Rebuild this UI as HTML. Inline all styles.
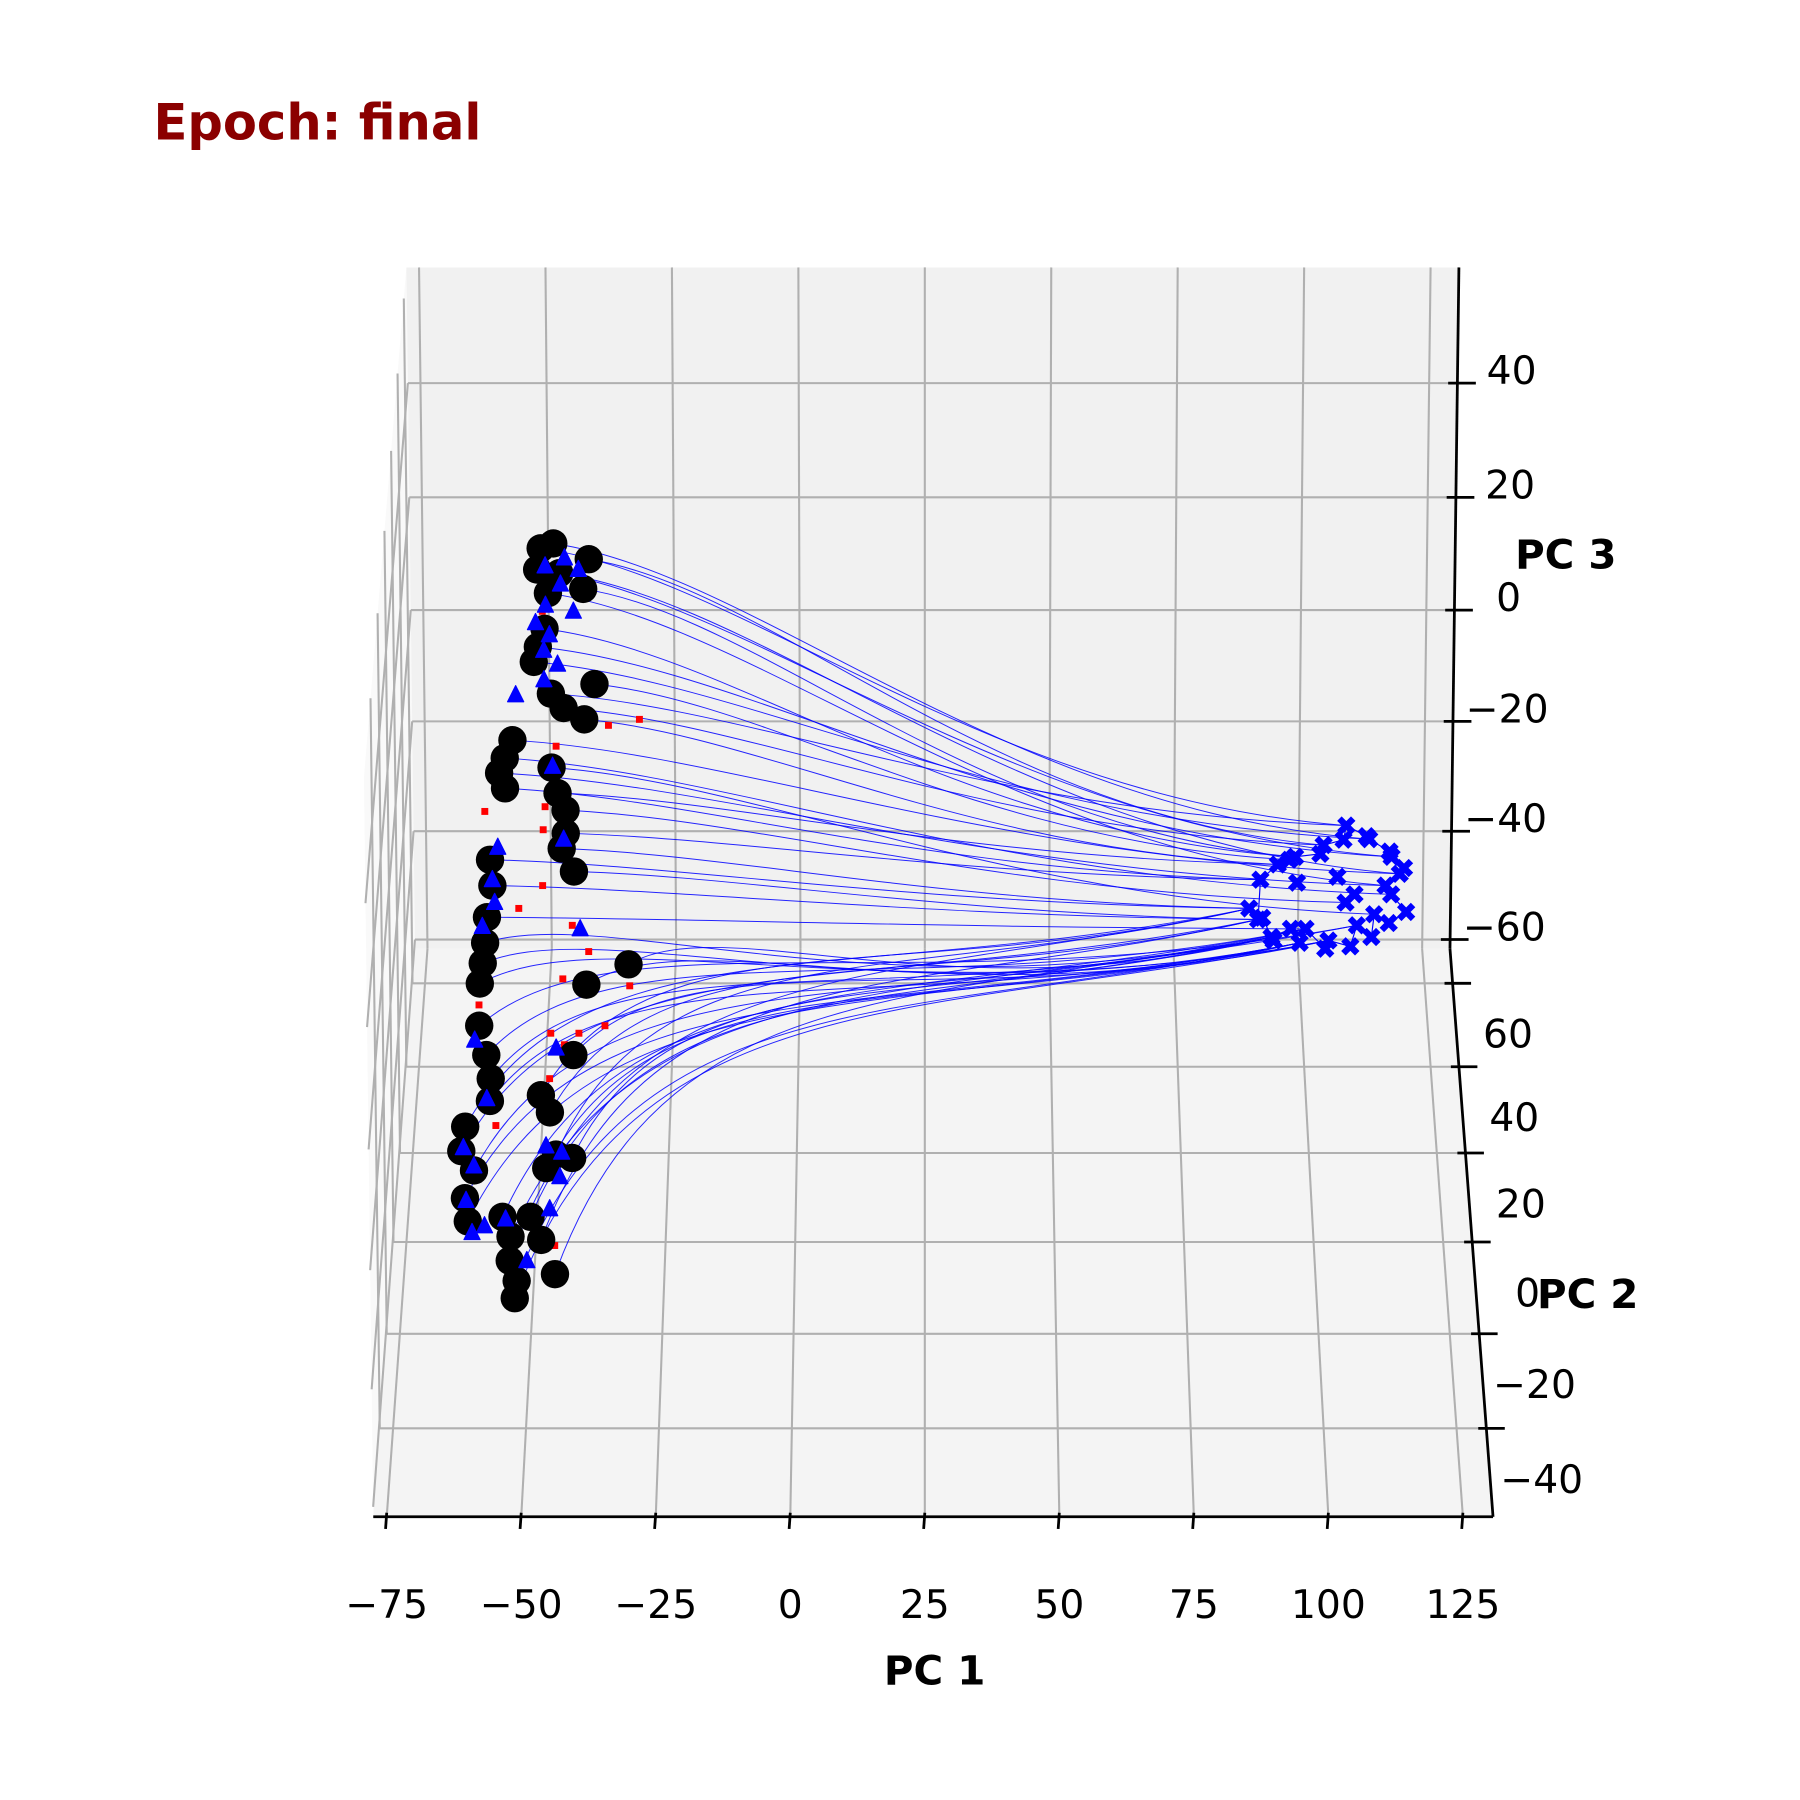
<!DOCTYPE html>
<html><head><meta charset="utf-8"><style>
html,body{margin:0;padding:0;background:#fff;}
svg{display:block;font-family:"DejaVu Sans","Liberation Sans",sans-serif;}
</style></head><body>
<svg id="chart" width="1800" height="1800" viewBox="0 0 1560 1560" xmlns="http://www.w3.org/2000/svg">
<text x="133" y="121" font-size="43" font-weight="bold" fill="#8b0000">Epoch: final</text>
<g id="panes"></g>
<g id="grid"></g>
<g id="axes"></g>
<g id="traj"></g>
<g id="marks"></g>
<text x="810" y="1448" font-size="35" font-weight="bold" text-anchor="middle" dominant-baseline="central">PC 1</text>
<text x="1357" y="481" font-size="35" font-weight="bold" text-anchor="middle" dominant-baseline="central">PC 3</text>
<text x="1376" y="1122" font-size="35" font-weight="bold" text-anchor="middle" dominant-baseline="central">PC 2</text>
</svg>
<script>
// ---- data (PC coordinates) ----
const DATA_PC2 = -1.9;
const startPc1 = [-47.8,-45.4,-38.7,-48.5,-39.8,-46.5,-44.3,-37.8,-39.8,-43.7,-46.1,-49.3,-48.5,-47.2,-53.5,-55.0,-56.1,-55.0,-46.1,-45.0,-43.5,-43.5,-44.3,-42.0,-31.7,-39.8,-42.4,-58.0,-57.6,-58.7,-59.1,-59.6,-60.2,-60.4,-59.1,-58.3,-58.5,-63.3,-64.1,-61.7,-63.5,-63.0,-56.3,-54.8,-50.9,-48.9,-55.0,-53.7,-54.1,-46.3,-48.7,-47.0,-42.8,-47.8,-45.9];
const startPc3 = [58.4,59.2,56.6,54.9,51.7,51.0,54.3,35.9,30.0,31.9,34.3,39.6,42.1,45.1,26.5,23.5,21.0,18.4,21.9,17.6,14.7,10.8,8.2,4.3,-11.6,-15.1,-27.3,6.3,1.9,-3.5,-7.9,-11.4,-14.9,-22.2,-27.3,-31.4,-35.3,-39.8,-44.1,-47.5,-52.4,-56.5,-55.7,-59.2,-55.7,-59.8,-63.5,-67.1,-70.2,-65.9,-34.3,-37.3,-45.3,-47.1,-44.7];
const endPc1 = [87.0,89.1,92.4,95.7,101.1,105.4,109.8,114.1,115.7,114.1,110.9,107.6,102.2,96.7,91.3,88.7,105.4,97.8,94.6,113.0,100.5,104.9,109.3,113.7,116.5,117.0,113.7,110.4,106.4,101.6,95.0,91.7,89.5,96.1,107.1,103.8];
const endPc3 = [-2.0,2.9,5.5,6.8,8.8,12.1,9.8,6.8,3.9,0.4,-3.0,-4.9,-7.5,-7.9,-6.9,-3.9,-1.0,-5.5,6.3,1.9,7.3,9.7,10.3,7.7,4.9,-2.6,-4.5,-6.9,-8.5,-8.9,-5.5,-7.5,-3.6,2.4,0.4,3.4];
const trajEndIdx = [5,6,4,7,3,19,8,18,2,4,5,6,7,3,8,9,19,1,10,2,16,1,0,15,14,13,12,0,15,17,14,13,12,11,17,14,13,0,15,14,13,12,17,11,14,15,0,13,12,17,0,15,14,13,0];
const ringOrder = [0,15,1,2,18,3,20,4,21,5,22,6,23,7,24,8,19,9,25,26,10,27,11,28,12,29,17,13,30,14,31,32,0];
const midPc1 = [-47.0,-43.3,-40.7,-44.1,-47.0,-41.7,-48.9,-46.3,-47.4,-44.8,-47.4,-52.8,-45.9,-43.9,-56.5,-57.6,-57.2,-59.6,-40.9,-61.3,-59.1,-63.7,-61.7,-63.3,-62.2,-59.8,-55.7,-51.7,-47.8,-45.2,-44.8,-47.2,-45.7];
const midPc3 = [55.5,56.8,54.9,52.5,49.0,48.0,46.1,44.1,41.5,39.2,36.6,34.1,22.1,9.8,8.4,2.9,-1.0,-5.1,-5.5,-24.7,-34.9,-43.5,-46.7,-52.8,-58.5,-57.3,-56.1,-63.5,-43.2,-48.6,-44.3,-54.3,-26.1];
const redPc1 = [-47.6,-47.8,-50.2,-45.4,-35.2,-29.3,-45.2,-55.9,-58.9,-47.4,-47.8,-42.8,-48.0,-52.6,-42.4,-39.3,-44.3,-40.7,-31.5,-36.3,-41.3,-44.1,-47.0,-60.2,-60.4,-57.4,-46.3,-46.7];
const redPc3 = [48.0,44.7,39.2,31.4,29.0,30.0,25.5,18.6,14.5,15.3,11.4,3.5,1.9,-2.0,-4.9,-9.4,-14.1,-14.1,-15.3,-22.2,-23.5,-25.5,-31.4,-21.6,-18.6,-39.6,-60.8,-23.5];
const xTicks = [-75,-50,-25,0,25,50,75,100,125];
const xTickLabels = ["\u221275","\u221250","\u221225","0","25","50","75","100","125"];
const yTicks = [60,40,20,0,-20,-40];
const yTickLabels = ["60","40","20","0","\u221220","\u221240"];
const zTicks = [40,20,0,-20,-40,-60];
const zTickLabels = ["40","20","0","\u221220","\u221240","\u221260"];

// ---- projection ----
const XMIN=-77.5, XMAX=130.6, YMAX=68.5, YMIN=-58.2, ZMIN=-61.7, ZMAX=60;
function floorY(p2){ return 1076.4 - 3.917*p2 + 0.003008*p2*p2; }
function backY(z){ return 528.1 - 4.854*z - 0.00159*z*z; }
const HMAX = backY(ZMIN) - backY(ZMAX);
function P(p1,p2,p3){
  const fy = floorY(p2); const t = (fy-822)/492.5;
  const h = backY(ZMIN) - backY(p3);
  const sy = fy - h*(1+0.085*t);
  const k = 4.31*(1+0.082*t)*(1+0.017*h/HMAX);
  return [801.5 + (p1-25)*k, sy];
}
const NS = "http://www.w3.org/2000/svg";
function mk(tag, parent, attrs){ const e=document.createElementNS(NS,tag); for(const k in attrs) e.setAttribute(k,attrs[k]); parent.appendChild(e); return e; }
function poly(pts){ return pts.map(p=>p[0].toFixed(1)+","+p[1].toFixed(1)).join(" "); }

const panes=document.getElementById('panes'), grid=document.getElementById('grid'), axes=document.getElementById('axes');
let pn = mk('polygon', panes, {points: poly([P(XMIN,YMAX,ZMAX),P(XMIN,YMAX,ZMIN),P(XMIN,YMIN,ZMIN),P(XMIN,YMIN,ZMAX)]), fill:'#f9f9f9'});


pn = mk('polygon', panes, {points: poly([P(XMIN,YMAX,ZMIN),P(XMAX,YMAX,ZMIN),P(XMAX,YMIN,ZMIN),P(XMIN,YMIN,ZMIN)]), fill:'#f4f4f4'});


pn = mk('polygon', panes, {points: poly([P(XMIN,YMAX,ZMAX),P(XMAX,YMAX,ZMAX),P(XMAX,YMAX,ZMIN),P(XMIN,YMAX,ZMIN)]), fill:'#f1f1f1'});



function gl(a,b,name){ const l=mk('line',grid,{x1:a[0],y1:a[1],x2:b[0],y2:b[1],stroke:'#b0b0b0','stroke-width':1.8});
  
   }
xTicks.forEach(v=>{ gl(P(v,YMAX,ZMIN),P(v,YMAX,ZMAX),'back-vgrid'); gl(P(v,YMAX,ZMIN),P(v,YMIN,ZMIN),'floor-xgrid'); });
zTicks.forEach(v=>{ gl(P(XMIN,YMAX,v),P(XMAX,YMAX,v),'back-hgrid'); gl(P(XMIN,YMAX,v),P(XMIN,YMIN,v),'left-zgrid'); });
yTicks.forEach(v=>{ gl(P(XMIN,v,ZMIN),P(XMAX,v,ZMIN),'floor-ygrid'); gl(P(XMIN,v,ZMIN),P(XMIN,v,ZMAX),'left-ygrid'); });

function al(a,b,name){ const l=mk('line',axes,{x1:a[0],y1:a[1],x2:b[0],y2:b[1],stroke:'#000','stroke-width':2.4});
  
   }
al(P(XMIN,YMIN,ZMIN),P(XMAX,YMIN,ZMIN),'x-axis-line');
al(P(XMAX,YMAX,ZMIN),P(XMAX,YMIN,ZMIN),'y-axis-line');
al(P(XMAX,YMAX,ZMIN),P(XMAX,YMAX,ZMAX),'z-axis-line');
function tl(x,y,txt,name){ const t=mk('text',axes,{x:x,y:y,'font-size':34,'text-anchor':'middle','dominant-baseline':'central'}); t.textContent=txt;
  
   }
xTicks.forEach((v,i)=>{ const a=P(v,YMIN,ZMIN); al([a[0],a[1]-3.5],[a[0]-1,a[1]+10.5],'x-tick'); tl(a[0],a[1]+77,xTickLabels[i],'x-tick-label'); });
yTicks.forEach((v,i)=>{ const a=P(XMAX,v,ZMIN); al([a[0]-7,a[1]],[a[0]+16,a[1]],'y-tick'); tl(a[0]+48,a[1]+45,yTickLabels[i],'y-tick-label'); });
zTicks.forEach((v,i)=>{ const a=P(XMAX,YMAX,v); al([a[0]-8,a[1]],[a[0]+16,a[1]],'z-tick'); tl(a[0]+47,a[1]-10,zTickLabels[i],'z-tick-label'); });

const traj=document.getElementById('traj'), marks=document.getElementById('marks');
startPc1.forEach((v,i)=>{
  const S=P(v,DATA_PC2,startPc3[i]); const j=trajEndIdx[i]; const E=P(endPc1[j],DATA_PC2,endPc3[j]);
  const dx=E[0]-S[0], dy=E[1]-S[1];
  let c1, c2;
  if(dy<0){ c1=[S[0]+0.15*dx, S[1]+0.8*dy-30]; c2=[S[0]+0.5*dx, E[1]+70]; }
  else { c1=[S[0]+0.25*dx, S[1]+0.1*dy]; c2=[S[0]+0.55*dx, E[1]-0.1*dy]; }
  const p=mk('path',traj,{d:`M${S[0].toFixed(1)},${S[1].toFixed(1)} C${c1[0].toFixed(1)},${c1[1].toFixed(1)} ${c2[0].toFixed(1)},${c2[1].toFixed(1)} ${E[0].toFixed(1)},${E[1].toFixed(1)}`,fill:'none',stroke:'#0000ff','stroke-width':0.85,'stroke-opacity':0.85});
  
  
});
const ringPts = ringOrder.map(j=>P(endPc1[j],DATA_PC2,endPc3[j]));
let rp=mk('polyline',traj,{points:poly(ringPts),fill:'none',stroke:'#0000ff','stroke-width':1});



redPc1.forEach((v,i)=>{ const a=P(v,DATA_PC2,redPc3[i]);
  const r=mk('rect',marks,{x:a[0]-3,y:a[1]-3,width:6,height:6,fill:'#ff0000'});
  
   });
startPc1.forEach((v,i)=>{ const a=P(v,DATA_PC2,startPc3[i]);
  const c=mk('circle',marks,{cx:a[0],cy:a[1],r:12.3,fill:'#000'});
  
   });
midPc1.forEach((v,i)=>{ const a=P(v,DATA_PC2,midPc3[i]);
  const t=mk('polygon',marks,{points:poly([[a[0],a[1]-8],[a[0]-7,a[1]+6],[a[0]+7,a[1]+6]]),fill:'#0000ff',stroke:'#0000ff','stroke-width':1,'stroke-linejoin':'round'});
  
   });
endPc1.forEach((v,i)=>{ const a=P(v,DATA_PC2,endPc3[i]);
  const x=mk('path',marks,{d:`M${a[0]-6},${a[1]-6}L${a[0]+6},${a[1]+6}M${a[0]+6},${a[1]-6}L${a[0]-6},${a[1]+6}`,stroke:'#0000ff','stroke-width':5.5});
  
   });
</script>
</body></html>
